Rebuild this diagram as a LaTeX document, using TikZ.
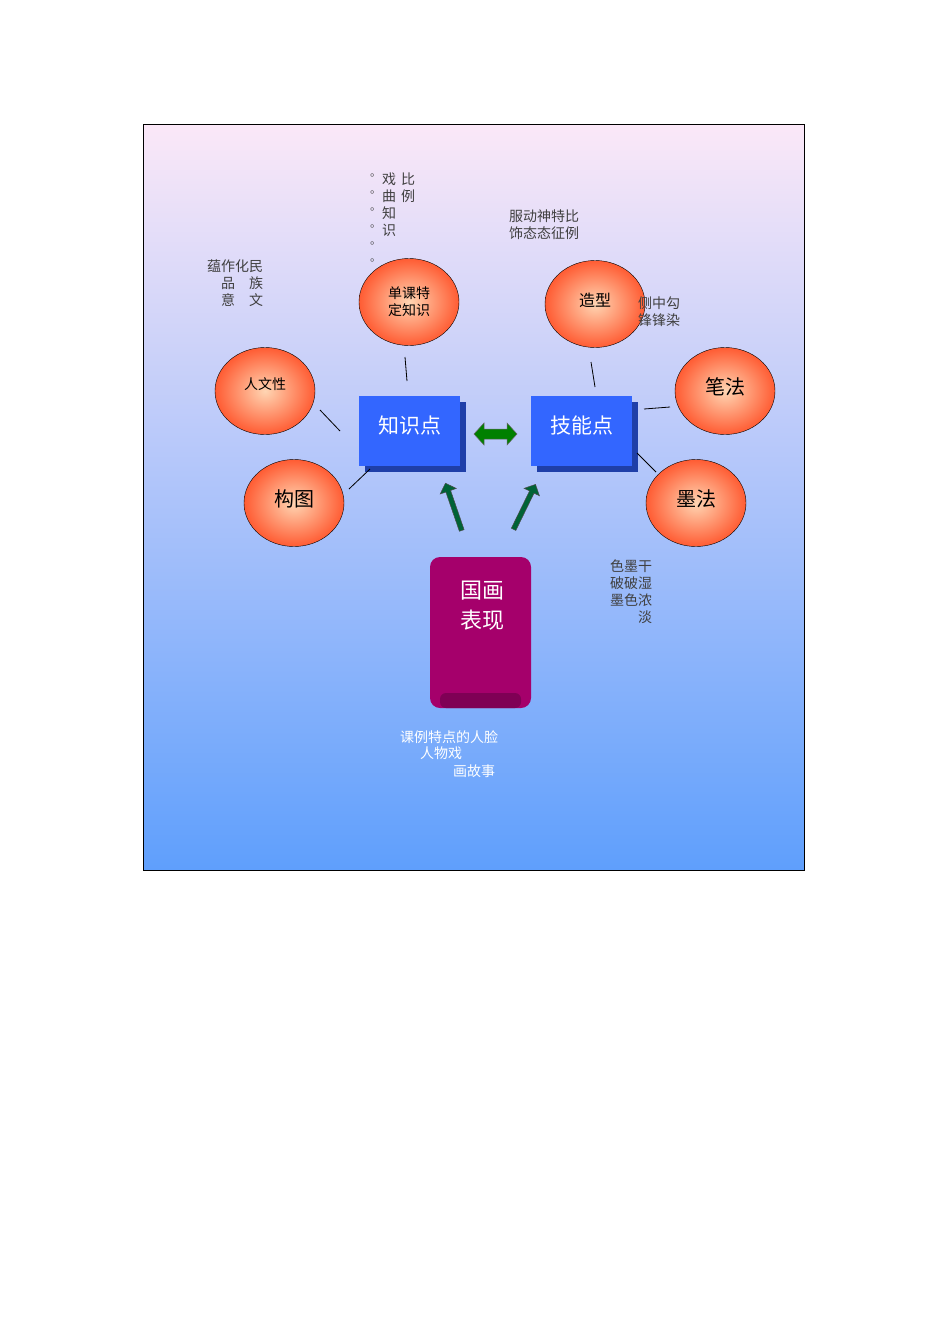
\documentclass[tikz,border=0pt]{standalone}
\usepackage{fontspec}
\newfontfamily\cjk{Noto Sans CJK SC}
\usetikzlibrary{arrows.meta,shapes.arrows}
\definecolor{bgtop}{HTML}{FBE8F8}
\definecolor{bgbot}{HTML}{5F9FFC}
\definecolor{bluebox}{HTML}{3366FF}
\definecolor{blueshad}{HTML}{1F3FA8}
\definecolor{purp}{HTML}{A5006B}
\definecolor{purpd}{HTML}{7F0055}
\tikzset{
 bub/.style={ellipse,draw=black,minimum width=100pt,minimum height=87pt,inner color=red!10!orange!30!white,outer color=red!60!orange!80,font=\cjk\fontsize{16}{16}\selectfont},
 lbl/.style={font=\cjk\fontsize{14}{17}\selectfont,text=black!75,inner sep=0pt,anchor=north west,align=left},
 con/.style={draw=black,line width=0.8pt},
 kbox/.style={fill=bluebox,minimum width=101pt,minimum height=70pt,text=white,font=\cjk\fontsize{21}{21}\selectfont,text depth=0pt},
}
\usetikzlibrary{shapes.geometric}
\begin{document}
\begin{tikzpicture}[x=1pt,y=-1pt]
\useasboundingbox (0,0) rectangle (950,1344);
\fill[white] (0,0) rectangle (950,1344);
\shade[top color=bgtop,bottom color=bgbot,draw=black] (143,124) rectangle (804,870);
% ellipses
\node[bub,font=\cjk\fontsize{14}{17}\selectfont,align=center] (dk) at (409,302) {单课特\\定知识};
\node[bub] (zx) at (595,304) {\raisebox{8pt}{造型}};
\node[bub,font=\cjk\fontsize{14}{14}\selectfont] (rw) at (265,391) {\raisebox{14pt}{人文性}};
\node[bub,font=\cjk\fontsize{20}{20}\selectfont] (bf) at (725,391) {\raisebox{10pt}{笔法}};
\node[bub,font=\cjk\fontsize{20}{20}\selectfont] (gt) at (294,503) {\raisebox{10pt}{构图}};
\node[bub,font=\cjk\fontsize{20}{20}\selectfont] (mf) at (696,503) {\raisebox{10pt}{墨法}};
% blue boxes
\fill[blueshad] (365,402) rectangle (466,472);
\node[kbox,anchor=north west] (zs) at (359,396) {\raisebox{14pt}{知识点}};
\fill[blueshad] (537,402) rectangle (638,472);
\node[kbox,anchor=north west] (jn) at (531,396) {\raisebox{14pt}{技能点}};
% purple
\fill[purp,rounded corners=10pt] (430,557) rectangle (531,708);
\fill[purpd,rounded corners=6pt] (440,693) rectangle (521,708);
\node[font=\cjk\fontsize{22}{30}\selectfont,text=white,align=center] (gh) at (482,606) {国画\\表现};
\coordinate (ghA) at (462,531); \coordinate (ghB) at (512,531);
% connectors
\draw[con] (405,357) -- (407,381);
\draw[con] (320,410) -- (340,431);
\draw[con] (349,489) -- (370,469);
\draw[con] (591,362) -- (595,387);
\draw[con] (644,409) -- (670,407);
\draw[con] (637,453) -- (656,472);
\draw[draw=black!60,fill=green!50!black,line width=0.5pt] (474,434) -- (484,423) -- (484,429) -- (507,429) -- (507,423) -- (517,434) -- (507,445) -- (507,439) -- (484,439) -- (484,445) -- cycle;
\node[single arrow,draw=black!70,fill=teal!70!green!60!black,minimum height=50pt,minimum width=17pt,single arrow head extend=3pt,inner sep=1pt,rotate=109,line width=0.5pt] (a1) at (454,508) {};
\node[single arrow,draw=black!70,fill=teal!70!green!60!black,minimum height=50pt,minimum width=17pt,single arrow head extend=3pt,inner sep=1pt,rotate=64,line width=0.5pt] (a2) at (524,508) {};
% labels
\node[lbl,font=\cjk\fontsize{11}{17}\selectfont] (q) at (370,174) {。\\。\\。\\。\\。\\。};
\node[lbl] (xq) at (382,173) {戏\\曲\\知\\识};
\node[lbl] (bl) at (401,173) {比\\例};
\node[lbl] (fs) at (509,210) {服动神特比\\饰态态征例};
\node[lbl] (rwt) at (207,260) {蕴作化民\\\phantom{蕴}品\phantom{化}族\\\phantom{蕴}意\phantom{化}文};
\node[lbl] (cz) at (638,297) {侧中勾\\锋锋染};
\node[lbl] (mft) at (610,559) {色墨干\\破破湿\\墨色浓\\\phantom{色墨}淡};
\node[lbl,text=white] (kl) at (400,730) {课例特点的人脸};
\node[lbl,text=white] (kl2) at (420,747) {人物戏};
\node[lbl,text=white] (kl3) at (453,765) {画故事};
\end{tikzpicture}
\end{document}
